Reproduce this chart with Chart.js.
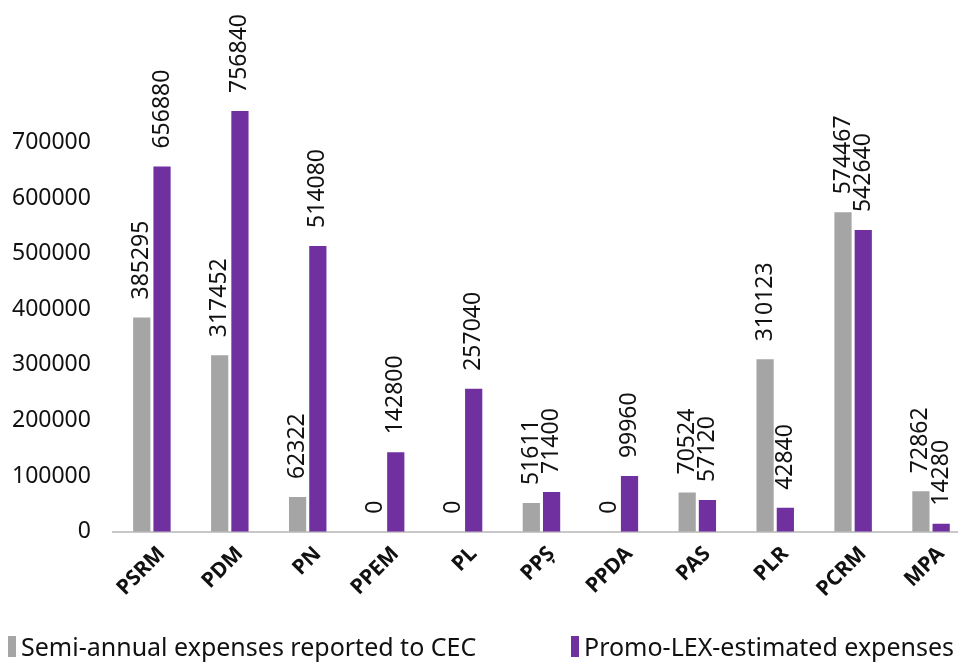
<!DOCTYPE html>
<html>
<head>
<meta charset="utf-8">
<script src="https://cdn.jsdelivr.net/npm/chart.js@4/dist/chart.umd.min.js"></script>
<style>
  html, body { margin: 0; padding: 0; background: #fff; overflow: hidden; }
  #wrap { width: 970px; height: 663px; }
</style>
</head>
<body>
<div id="wrap"><canvas id="chart"></canvas></div>
<script>
// parties
const parties = ['PSRM', 'PDM', 'PN', 'PPEM', 'PL', 'PPȘ', 'PPDA', 'PAS', 'PLR', 'PCRM', 'MPA']

// expenses reported to CEC (semi-annual)
const reported = [385295, 317452, 62322, 0, 0, 51611, 0, 70524, 310123, 574467, 72862]

// expenses estimated by Promo-LEX
const estimated = [656880, 756840, 514080, 142800, 257040, 71400, 99960, 57120, 42840, 542640, 14280]

const seriesNames = ['Semi-annual expenses reported to CEC', 'Promo-LEX-estimated expenses']
const colors = ['#a5a5a5', '#7030a0']

const font = 'Noto Sans'

// draw the value above each bar, rotated
const valueLabels = {
    id: 'valueLabels',
    afterDatasetsDraw(chart) {
        const ctx = chart.ctx
        ctx.save()
        ctx.font = '23px "' + font + '"'
        ctx.fillStyle = '#111'
        ctx.textAlign = 'left'
        ctx.textBaseline = 'middle'
        chart.data.datasets.forEach((ds, i) => {
            chart.getDatasetMeta(i).data.forEach((bar, j) => {
                ctx.save()
                ctx.translate(bar.x, bar.y - 18)
                ctx.rotate(-Math.PI / 2)
                ctx.fillText(String(ds.data[j]), 0, 0)
                ctx.restore()
            })
        })
        ctx.restore()
    }
}

// legend at the bottom, one item left and one on the right
const bottomLegend = {
    id: 'bottomLegend',
    afterDraw(chart) {
        const ctx = chart.ctx
        const xs = [8, 571]
        const y = 649
        ctx.save()
        ctx.font = '25px "' + font + '"'
        ctx.textBaseline = 'middle'
        ctx.textAlign = 'left'
        seriesNames.forEach((name, i) => {
            ctx.fillStyle = colors[i]
            ctx.fillRect(xs[i], y - 13, 8, 21)
            ctx.fillStyle = '#111'
            ctx.fillText(name, xs[i] + 13, y)
        })
        ctx.restore()
    }
}

var context = document.getElementById('chart').getContext('2d')
new Chart(context, {
    type: 'bar',
    data: {
        labels: parties,
        datasets: [{
            label: seriesNames[0],
            data: reported,
            backgroundColor: colors[0],
            barPercentage: 0.85,
            categoryPercentage: 0.52
        }, {
            label: seriesNames[1],
            data: estimated,
            backgroundColor: colors[1],
            barPercentage: 0.85,
            categoryPercentage: 0.52
        }]
    },
    options: {
        responsive: true,
        maintainAspectRatio: false,
        animation: false,
        layout: { padding: { top: 87, left: -10, right: 0, bottom: 51 } },
        plugins: {
            tooltip: { enabled: false },
            legend: { display: false }
        },
        scales: {
            x: {
                grid: { display: false, drawTicks: false },
                border: { display: true, color: '#c8c8c8', width: 2 },
                afterFit(scale) {
                    // don't push the plot right for the rotated first label
                    scale.paddingLeft = 0
                    scale.paddingRight = 0
                },
                ticks: {
                    color: '#111',
                    maxRotation: 45,
                    minRotation: 45,
                    padding: 10,
                    labelOffset: 10,
                    font: { family: font, size: 21, weight: 'bold' }
                }
            },
            y: {
                min: 0,
                max: 800000,
                grid: { display: false, drawTicks: false },
                border: { display: false },
                ticks: {
                    stepSize: 100000,
                    autoSkip: false,
                    padding: 22,
                    color: '#111',
                    font: { family: font, size: 23 },
                    callback: v => v >= 800000 ? '' : v
                }
            }
        }
    },
    plugins: [valueLabels, bottomLegend]
})
</script>
</body>
</html>
